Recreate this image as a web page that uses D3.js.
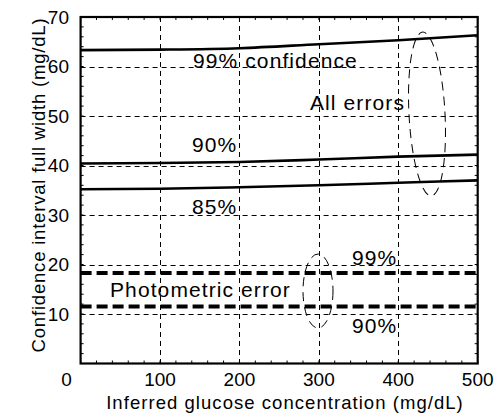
<!DOCTYPE html>
<html>
<head>
<meta charset="utf-8">
<script src="https://cdn.jsdelivr.net/npm/d3@7"></script>
<style>
  html, body { margin: 0; padding: 0; background: #fff; }
  svg { display: block; font-family: "Liberation Sans", Arial, Helvetica, sans-serif; }
</style>
</head>
<body>
<svg id="chart" width="499" height="414"></svg>
<script>
// Glucose concentration sample points (mg/dL)
const glucose = [0, 100, 200, 300, 400, 500];

// Confidence interval full width, all errors combined
const allErrors99 = [63.3, 63.4, 63.7, 64.5, 65.3, 66.3];
const allErrors90 = [40.4, 40.5, 40.7, 41.2, 41.8, 42.2];
const allErrors85 = [35.2, 35.3, 35.6, 36.0, 36.5, 37.0];

// Confidence interval full width, photometric error only
const photometric99 = [18.3, 18.3, 18.3, 18.3, 18.3, 18.3];
const photometric90 = [11.5, 11.5, 11.5, 11.5, 11.5, 11.5];

// Axis ticks
const xTicks = [100, 200, 300, 400, 500];
const yTicks = [10, 20, 30, 40, 50, 60, 70];
const xGrid = [100, 200, 300, 400];
const yGrid = [10, 20, 30, 40, 50, 60];

const svg = d3.select("#chart");
const margin = { left: 80.6, right: 21.3, top: 17, bottom: 50.5 };
const W = 499, H = 414;

const x = d3.scaleLinear().domain([0, 500]).range([margin.left, W - margin.right]);
const y = d3.scaleLinear().domain([0, 70]).range([H - margin.bottom, margin.top]);

// Grid lines
const grid = svg.append("g").attr("stroke", "#000").attr("stroke-width", 1)
  .attr("stroke-dasharray", "5,4").attr("fill", "none");
grid.selectAll("line.v").data(xGrid).join("line").attr("class", "v")
  .attr("x1", d => Math.round(x(d)) + 0.5).attr("x2", d => Math.round(x(d)) + 0.5)
  .attr("y1", y(70)).attr("y2", y(0));
grid.selectAll("line.h").data(yGrid).join("line").attr("class", "h")
  .attr("x1", x(0)).attr("x2", x(500))
  .attr("y1", d => Math.round(y(d)) + 0.5).attr("y2", d => Math.round(y(d)) + 0.5);

// Minor ticks pointing inward on all four sides
const minorX = d3.range(0, 501, 20);
const minorY = d3.range(0, 71, 2);
const ticks = svg.append("g").attr("stroke", "#000").attr("stroke-width", 1);
ticks.selectAll("line.bx").data(minorX).join("line").attr("class", "bx")
  .attr("x1", d => x(d)).attr("x2", d => x(d)).attr("y1", y(0)).attr("y2", y(0) - 3);
ticks.selectAll("line.tx").data(minorX).join("line").attr("class", "tx")
  .attr("x1", d => x(d)).attr("x2", d => x(d)).attr("y1", y(70)).attr("y2", y(70) + 3);
ticks.selectAll("line.ly").data(minorY).join("line").attr("class", "ly")
  .attr("x1", x(0)).attr("x2", x(0) + 3).attr("y1", d => y(d)).attr("y2", d => y(d));
ticks.selectAll("line.ry").data(minorY).join("line").attr("class", "ry")
  .attr("x1", x(500)).attr("x2", x(500) - 3).attr("y1", d => y(d)).attr("y2", d => y(d));

// Curves
const line = d3.line().x((d, i) => x(glucose[i])).y(d => y(d)).curve(d3.curveMonotoneX);
const curves = svg.append("g").attr("fill", "none").attr("stroke", "#000");
[allErrors99, allErrors90, allErrors85].forEach(s => {
  curves.append("path").datum(s).attr("d", line).attr("stroke-width", 2.6);
});
[photometric99, photometric90].forEach(s => {
  curves.append("path").datum(s).attr("d", line).attr("stroke-width", 4)
    .attr("stroke-dasharray", "11,5");
});

// Frame
svg.append("rect").attr("x", x(0)).attr("y", y(70))
  .attr("width", x(500) - x(0)).attr("height", y(0) - y(70))
  .attr("fill", "none").attr("stroke", "#000").attr("stroke-width", 2.2);

// Tick labels
const tickFont = 19;
svg.append("g").selectAll("text").data(xTicks).join("text")
  .attr("x", d => x(d)).attr("y", 386).attr("text-anchor", "middle")
  .attr("font-size", tickFont).text(d => d);
svg.append("text").attr("x", x(0) - 14).attr("y", 386).attr("text-anchor", "middle")
  .attr("font-size", tickFont).text("0");
svg.append("g").selectAll("text").data(yTicks).join("text")
  .attr("x", 69).attr("y", d => y(d)).attr("dy", "0.36em").attr("text-anchor", "end")
  .attr("font-size", tickFont).text(d => d);

// Axis titles
svg.append("text").attr("x", 285).attr("y", 409).attr("text-anchor", "middle")
  .attr("font-size", 18.5).attr("letter-spacing", 1.05)
  .text("Inferred glucose concentration (mg/dL)");
svg.append("text").attr("transform", "translate(45,185) rotate(-90)")
  .attr("text-anchor", "middle").attr("font-size", 18.5).attr("letter-spacing", 0.8)
  .text("Confidence interval full width (mg/dL)");

// Annotations
const ann = svg.append("g").attr("font-size", 21).attr("letter-spacing", 1.1);
ann.append("text").attr("x", 193).attr("y", 68).text("99% confidence");
ann.append("text").attr("x", 310).attr("y", 110).text("All errors");
ann.append("text").attr("x", 192).attr("y", 152).text("90%");
ann.append("text").attr("x", 192).attr("y", 214).text("85%");
ann.append("text").attr("x", 352).attr("y", 265).text("99%");
ann.append("text").attr("x", 110).attr("y", 297).text("Photometric error");
ann.append("text").attr("x", 352).attr("y", 333).text("90%");

// Grouping ellipses
const ell = svg.append("g").attr("fill", "none").attr("stroke", "#000")
  .attr("stroke-width", 1).attr("stroke-dasharray", "9,6");
ell.append("ellipse").attr("cx", 427).attr("cy", 114).attr("rx", 18).attr("ry", 82)
  .attr("transform", "rotate(-3,427,114)");
ell.append("ellipse").attr("cx", 318).attr("cy", 291).attr("rx", 15).attr("ry", 37);
</script>
</body>
</html>
